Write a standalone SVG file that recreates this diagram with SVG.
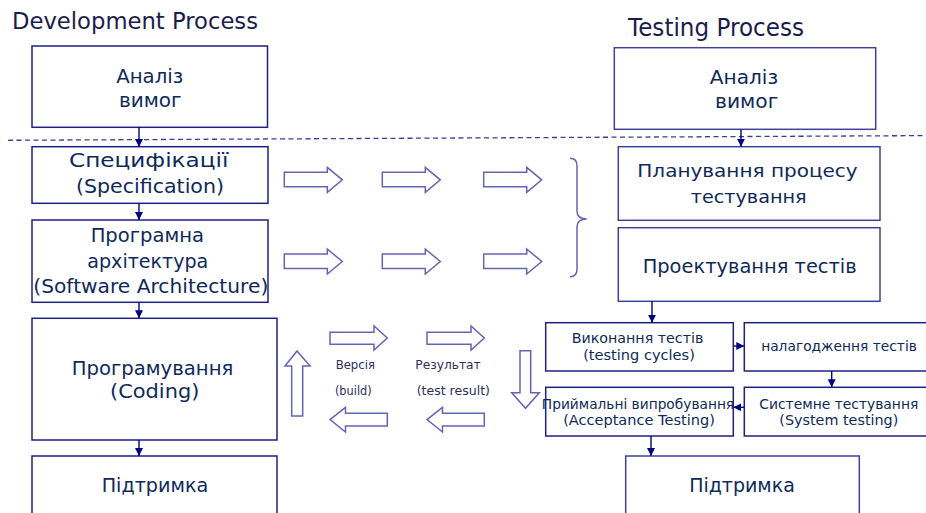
<svg xmlns="http://www.w3.org/2000/svg" xmlns:xlink="http://www.w3.org/1999/xlink" width="926" height="513" viewBox="0 0 926 513">
<style>
.bg{fill:#ffffff}
.box{fill:#ffffff;stroke:#1f1f84;stroke-width:1.5}
.rbox{fill:#ffffff;stroke:#40409a;stroke-width:1.5}
.t{font-family:"DejaVu Sans","Liberation Sans",sans-serif;fill:#0f2a5a;text-anchor:middle}
.title{font-family:"DejaVu Sans","Liberation Sans",sans-serif;fill:#1c1c4c}
.lbl{font-family:"DejaVu Sans","Liberation Sans",sans-serif;fill:#2e2e5e;text-anchor:middle;font-size:12px}
.conn{stroke:#000080;stroke-width:1.4;fill:none;marker-end:url(#ah)}
.blk{fill:#ffffff;stroke:#6464b4;stroke-width:1.5;stroke-linejoin:miter}
.dash{stroke:#3c3c9c;stroke-width:1.3;stroke-dasharray:5 3.5;fill:none}
</style>
<defs>
<marker id="ah" markerUnits="userSpaceOnUse" markerWidth="9" markerHeight="9" refX="8" refY="4" orient="auto">
<path d="M0,0 L8,4 L0,8 Z" fill="#000080"/>
</marker>
<path id="ra" d="M0,5 H43 V0 L58,12.5 L43,25 V19.4 H0 Z"/>
<path id="rb" d="M0,6.3 H44 V0 L57.3,12 L44,24 V18.3 H0 Z"/>
<path id="lb" d="M0,12.3 L15.5,0 V6 H57.3 V18.7 H15.5 V24.7 Z"/>
</defs>
<rect class="bg" x="0" y="0" width="926" height="513"/>

<text class="title" x="12" y="29.3" font-size="23" textLength="246" lengthAdjust="spacingAndGlyphs">Development Process</text>
<text class="title" x="628" y="36" font-size="25" textLength="176" lengthAdjust="spacingAndGlyphs">Testing Process</text>

<line class="dash" x1="8" y1="140.3" x2="926" y2="135.6"/>

<g id="dev-analysis">
<rect class="box" x="32" y="46" width="235.5" height="81.3"/>
<text class="t" x="149.7" y="82.7" font-size="19" textLength="67" lengthAdjust="spacingAndGlyphs">Аналіз</text>
<text class="t" x="150.3" y="106.7" font-size="19" textLength="62.7" lengthAdjust="spacingAndGlyphs">вимог</text>
</g>
<g id="dev-spec">
<rect class="box" x="32" y="146.7" width="236" height="56.6"/>
<text class="t" x="148.7" y="166.7" font-size="19" textLength="159.3" lengthAdjust="spacingAndGlyphs">Специфікації</text>
<text class="t" x="150" y="193.3" font-size="19" textLength="148" lengthAdjust="spacingAndGlyphs">(Specification)</text>
</g>
<g id="dev-arch">
<rect class="box" x="32" y="220" width="236" height="82.3"/>
<text class="t" x="147.3" y="242.3" font-size="19" textLength="113.3" lengthAdjust="spacingAndGlyphs">Програмна</text>
<text class="t" x="147.8" y="268.3" font-size="19" textLength="121" lengthAdjust="spacingAndGlyphs">архітектура</text>
<text class="t" x="150.8" y="293.3" font-size="19" textLength="235" lengthAdjust="spacingAndGlyphs">(Software Architecture)</text>
</g>
<g id="dev-coding">
<rect class="box" x="32" y="318.3" width="245" height="121.7"/>
<text class="t" x="152.5" y="375" font-size="19" textLength="161.6" lengthAdjust="spacingAndGlyphs">Програмування</text>
<text class="t" x="154.7" y="398.3" font-size="19" textLength="89.3" lengthAdjust="spacingAndGlyphs">(Coding)</text>
</g>
<g id="dev-support">
<rect class="box" x="32" y="456" width="245" height="70"/>
<text class="t" x="155" y="491.7" font-size="19" textLength="106.6" lengthAdjust="spacingAndGlyphs">Підтримка</text>
</g>

<g id="test-analysis">
<rect class="rbox" x="614.3" y="47.7" width="261.4" height="81.6"/>
<text class="t" x="744" y="84.3" font-size="19.5" textLength="68.3" lengthAdjust="spacingAndGlyphs">Аналіз</text>
<text class="t" x="746.7" y="108.3" font-size="19.5" textLength="63.3" lengthAdjust="spacingAndGlyphs">вимог</text>
</g>
<g id="test-planning">
<rect class="rbox" x="618.3" y="146.7" width="261.7" height="73.6"/>
<text class="t" x="747.5" y="177.3" font-size="18" textLength="220.4" lengthAdjust="spacingAndGlyphs">Планування процесу</text>
<text class="t" x="748.7" y="203.3" font-size="18" textLength="116" lengthAdjust="spacingAndGlyphs">тестування</text>
</g>
<g id="test-design">
<rect class="rbox" x="618.3" y="227.7" width="261.7" height="73.6"/>
<text class="t" x="749.7" y="273.3" font-size="19" textLength="214" lengthAdjust="spacingAndGlyphs">Проектування тестів</text>
</g>
<g id="test-exec">
<rect class="box" x="545.7" y="322.7" width="187.6" height="48.3"/>
<text class="t" x="637.5" y="343.3" font-size="14.5" textLength="131.6" lengthAdjust="spacingAndGlyphs">Виконання  тестів</text>
<text class="t" x="639" y="360" font-size="14.5" textLength="111.7" lengthAdjust="spacingAndGlyphs">(testing cycles)</text>
</g>
<g id="test-debug">
<rect class="box" x="744.3" y="322.7" width="190" height="48.3"/>
<text class="t" x="839" y="350.7" font-size="14.5" textLength="155.7" lengthAdjust="spacingAndGlyphs">налагодження  тестів</text>
</g>
<g id="test-acceptance">
<rect class="box" x="545.7" y="387.3" width="187.6" height="48.7"/>
<text class="t" x="638" y="409" font-size="14.5" textLength="192.3" lengthAdjust="spacingAndGlyphs">Приймальні  випробування</text>
<text class="t" x="639" y="425" font-size="14.5" textLength="151.7" lengthAdjust="spacingAndGlyphs">(Acceptance Testing)</text>
</g>
<g id="test-system">
<rect class="box" x="744.3" y="387.3" width="190" height="48.7"/>
<text class="t" x="838.8" y="409" font-size="14.5" textLength="159" lengthAdjust="spacingAndGlyphs">Системне тестування</text>
<text class="t" x="838.8" y="425" font-size="14.5" textLength="119" lengthAdjust="spacingAndGlyphs">(System  testing)</text>
</g>
<g id="test-support">
<rect class="rbox" x="625.7" y="456" width="233.6" height="70"/>
<text class="t" x="742" y="491.7" font-size="19" textLength="105.7" lengthAdjust="spacingAndGlyphs">Підтримка</text>
</g>

<g id="connectors">
<line class="conn" x1="139" y1="127.3" x2="139" y2="147"/>
<line class="conn" x1="139" y1="203.3" x2="139" y2="220"/>
<line class="conn" x1="139" y1="302.3" x2="139" y2="318.3"/>
<line class="conn" x1="139" y1="440" x2="139" y2="456"/>
<line class="conn" x1="741" y1="129.3" x2="741" y2="146.7"/>
<line class="conn" x1="652" y1="301.3" x2="652" y2="322.7"/>
<line class="conn" x1="733.3" y1="346" x2="744.3" y2="346"/>
<line class="conn" x1="831.7" y1="371" x2="831.7" y2="387.3"/>
<line class="conn" x1="744.3" y1="407.3" x2="733.3" y2="407.3"/>
<line class="conn" x1="651" y1="436" x2="651" y2="456"/>
</g>

<g id="flow-arrows">
<use xlink:href="#ra" class="blk" x="284.3" y="167.3"/>
<use xlink:href="#ra" class="blk" x="382.3" y="167.3"/>
<use xlink:href="#ra" class="blk" x="483.7" y="167.3"/>
<use xlink:href="#ra" class="blk" x="284.3" y="249"/>
<use xlink:href="#ra" class="blk" x="382.3" y="249"/>
<use xlink:href="#ra" class="blk" x="483.7" y="249"/>
<use xlink:href="#rb" class="blk" x="330" y="326"/>
<use xlink:href="#rb" class="blk" x="427" y="326"/>
<use xlink:href="#lb" class="blk" x="330" y="407.3"/>
<use xlink:href="#lb" class="blk" x="427" y="407.3"/>
<path class="blk" d="M297,351 L310,366 H302.7 V416 H291.7 V366 H285 Z"/>
<path class="blk" d="M520,350.7 H530.7 V392.7 H539.3 L525.5,408.3 L511.7,392.7 H520 Z"/>
<path d="M570,158.3 Q577,158.3 577,166 V211 Q577,219 586.7,219 Q577,219 577,227 V269 Q577,276.7 570,276.7" fill="none" stroke="#6464b4" stroke-width="1.5"/>
</g>

<text class="lbl" x="355.3" y="369.3" textLength="39.3" lengthAdjust="spacingAndGlyphs">Версія</text>
<text class="lbl" x="353.3" y="395" textLength="36.7" lengthAdjust="spacingAndGlyphs">(build)</text>
<text class="lbl" x="448" y="369.3" textLength="65.3" lengthAdjust="spacingAndGlyphs">Результат</text>
<text class="lbl" x="453.3" y="395" textLength="73.3" lengthAdjust="spacingAndGlyphs">(test result)</text>
</svg>
